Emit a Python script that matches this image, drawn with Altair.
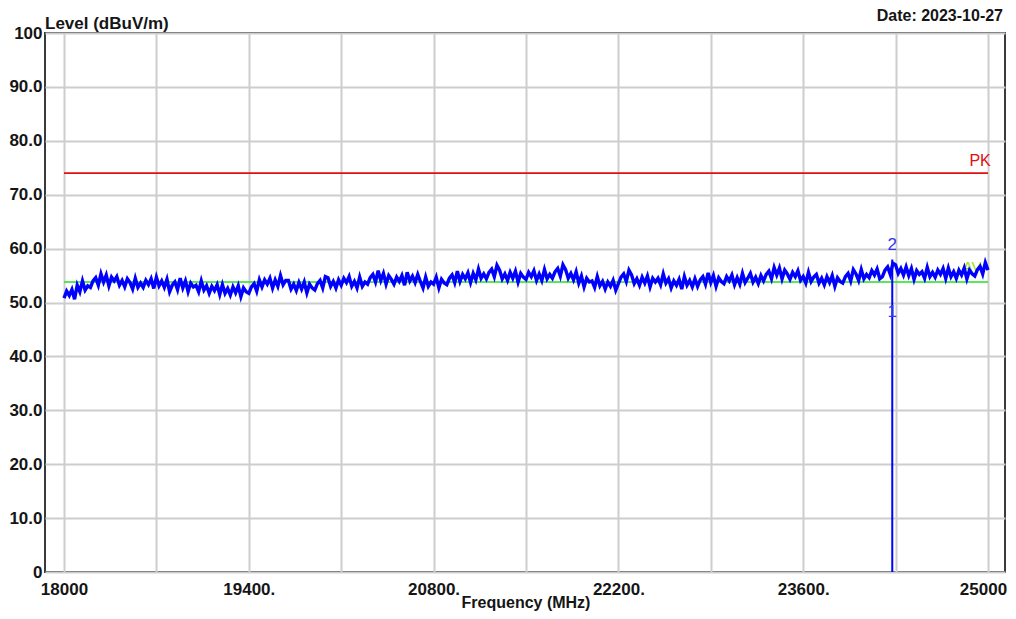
import altair as alt
import pandas as pd

F_START, F_STEP = 18000, 20
seg_18000 = [50.8, 52.1, 51.3, 52.4, 50.6, 53.2, 52.0, 54.0, 52.3, 53.1, 52.8, 54.0, 54.6, 53.2, 55.3, 53.8, 55.1, 53.1, 54.7, 54.0,
             54.8, 53.2, 54.1, 52.9, 54.4, 53.7, 52.5, 54.5, 52.8, 53.6, 52.8, 54.1, 53.3, 54.4, 52.6, 54.7, 53.1, 54.0, 52.8, 54.3,
             52.0, 53.2, 53.8, 52.4, 54.5, 52.7, 54.0, 52.0, 53.6, 52.9]
seg_19000 = [53.2, 52.0, 54.0, 52.3, 53.1, 51.7, 53.0, 52.2, 53.3, 51.5, 53.3, 51.7, 52.6, 51.4, 52.9, 51.8, 53.1, 51.1, 52.7, 52.0,
             51.7, 52.9, 53.5, 52.1, 54.2, 52.9, 54.2, 53.4, 54.5, 52.7, 54.2, 53.0, 55.0, 53.3, 54.1, 54.1, 52.5, 53.4, 52.2, 53.7,
             52.5, 53.8, 51.8, 53.4, 52.7, 52.3, 53.5, 54.1, 52.7, 54.8]
seg_20000 = [54.6, 53.0, 53.9, 52.7, 54.2, 53.2, 54.5, 53.7, 54.8, 53.0, 53.9, 52.7, 54.7, 53.0, 53.8, 53.4, 54.6, 55.2, 53.8, 55.9,
             54.1, 55.4, 53.4, 55.0, 54.3, 53.4, 54.7, 53.9, 55.0, 53.2, 55.6, 54.0, 54.9, 53.7, 55.2, 53.9, 52.7, 54.7, 53.0, 53.8,
             53.4, 54.7, 52.7, 54.3, 53.6, 53.3, 54.5, 55.1, 53.7, 55.8]
seg_21000 = [53.9, 55.2, 54.4, 55.5, 53.7, 55.4, 54.2, 56.2, 54.5, 55.3, 54.4, 55.6, 56.2, 54.8, 56.9, 56.0, 54.4, 55.3, 54.1, 55.6,
             54.5, 55.8, 53.8, 55.4, 54.7, 54.3, 55.6, 54.8, 55.9, 54.1, 55.3, 54.1, 56.1, 54.4, 55.2, 54.5, 55.7, 56.3, 54.9, 57.0,
             56.1, 54.5, 55.4, 54.2, 55.7, 53.6, 54.9, 52.9, 54.5, 53.8]
seg_22000 = [54.0, 52.8, 54.8, 53.1, 53.9, 52.5, 53.8, 53.0, 54.1, 52.3, 53.5, 54.7, 55.3, 53.9, 56.0, 55.1, 53.5, 54.4, 53.2, 54.7,
             53.6, 54.9, 52.9, 54.5, 53.8, 54.5, 53.3, 55.3, 53.6, 54.4, 52.7, 54.0, 53.2, 54.3, 52.5, 54.8, 53.2, 54.1, 52.9, 54.4,
             53.0, 54.2, 54.8, 53.4, 55.5, 53.7, 55.0, 53.0, 54.6, 53.9]
seg_23000 = [53.5, 54.8, 54.0, 55.1, 53.3, 54.6, 53.4, 55.4, 53.7, 54.5, 55.4, 53.8, 54.7, 53.5, 55.0, 54.0, 55.2, 55.8, 54.4, 56.5,
             55.1, 56.4, 54.4, 56.0, 55.3, 54.3, 55.6, 54.8, 55.9, 54.1, 54.8, 53.6, 55.6, 53.9, 54.7, 55.2, 53.6, 54.5, 53.3, 54.8,
             53.7, 55.0, 53.0, 54.6, 53.9, 53.6, 54.8, 55.4, 54.0, 56.1]
seg_24000 = [55.3, 54.1, 56.1, 54.4, 55.2, 54.6, 55.9, 55.1, 56.2, 54.4, 54.8, 56.0, 56.6, 55.2, 57.3, 57.0, 55.4, 56.3, 55.1, 56.6,
             55.0, 56.3, 54.3, 55.9, 55.2, 55.7, 54.5, 56.5, 54.8, 55.6, 54.7, 56.0, 55.2, 56.3, 54.5, 56.4, 54.8, 55.7, 54.5, 56.0,
             55.1, 56.4, 54.4, 56.0, 55.3, 54.9, 56.1, 56.7, 55.3, 57.4]
seg_25000 = [56.0]

limit_pk = 74.0
limit_av = 53.8
marker_freq = 24275
marker_top = 58.0
marker2_level = 60.6
marker1_level = 48.3

x_grid = list(range(18000, 25001, 700))
y_grid = list(range(0, 101, 10))

levels = seg_18000 + seg_19000 + seg_20000 + seg_21000 + seg_22000 + seg_23000 + seg_24000 + seg_25000
freqs = [F_START + i * F_STEP for i in range(len(levels))]
trace = pd.DataFrame({"f": freqs, "level": levels})

limits = pd.DataFrame({"f": [18000, 18000], "f2": [25000, 25000],
                       "level": [limit_pk, limit_av], "name": ["PK", "AV"]})
marker_line = pd.DataFrame({"f": [marker_freq], "y0": [0], "y1": [marker_top]})
marker_txt = pd.DataFrame({"f": [marker_freq, marker_freq], "level": [marker2_level, marker1_level], "t": ["2", "1"]})
lim_txt = pd.DataFrame({"f": [24940], "level": [76.2], "t": ["PK"]})
av_txt = pd.DataFrame({"f": [24880], "level": [56.6], "t": ["AV"]})

W, H = 960, 539
FONT = "Liberation Sans"

xs = alt.Scale(domain=[17856, 25129], nice=False, zero=False)
ys = alt.Scale(domain=[0, 100], nice=False)

x_axis = alt.Axis(values=x_grid, title=None, grid=True, domain=False, ticks=False, tickSize=0,
                  labelPadding=9, labelFont=FONT, labelFontSize=17, labelFontWeight="bold", labelColor="#151515",
                  labelExpr="(datum.value - 18000) % 1400 == 0 ? (datum.value == 18000 || datum.value == 25000 ? format(datum.value, 'd') : format(datum.value, 'd') + '.') : ''",
                  labelOffset=alt.ExprRef(expr="datum.value == 25000 ? -5 : 0"),
                  gridColor="#cdcdcd", gridWidth=2, labelOverlap=False)
y_axis = alt.Axis(values=y_grid, title=None, grid=True, domain=False, ticks=False, tickSize=0,
                  labelPadding=3, labelFont=FONT, labelFontSize=17, labelFontWeight="bold", labelColor="#151515",
                  labelExpr="datum.value == 0 ? '0' : datum.value == 100 ? '100' : format(datum.value, '.1f')",
                  gridColor="#cdcdcd", gridWidth=2, labelOverlap=False)

base_grid = alt.Chart(trace).mark_point(opacity=0).encode(
    x=alt.X("f:Q", scale=xs, axis=x_axis),
    y=alt.Y("level:Q", scale=ys, axis=y_axis),
)

lim_rules = alt.Chart(limits).mark_rule(strokeWidth=1.6).encode(
    x=alt.X("f:Q", scale=xs), x2="f2:Q",
    y=alt.Y("level:Q", scale=ys),
    color=alt.Color("name:N", scale=alt.Scale(domain=["PK", "AV"], range=["#e01010", "#22e022"]), legend=None),
)

av_label = alt.Chart(av_txt).mark_text(font=FONT, fontSize=15, color="#99dd00", align="center", baseline="middle").encode(
    x=alt.X("f:Q", scale=xs), y=alt.Y("level:Q", scale=ys), text="t:N")

trace_line = alt.Chart(trace).mark_line(color="#0000ff", strokeWidth=3.4, interpolate="linear").encode(
    x=alt.X("f:Q", scale=xs), y=alt.Y("level:Q", scale=ys))

mk_line = alt.Chart(marker_line).mark_rule(color="#0000ff", strokeWidth=2).encode(
    x=alt.X("f:Q", scale=xs), y=alt.Y("y0:Q", scale=ys), y2="y1:Q")

mk_text = alt.Chart(marker_txt).mark_text(font=FONT, fontSize=17, color="#3535ee", align="center", baseline="middle").encode(
    x=alt.X("f:Q", scale=xs), y=alt.Y("level:Q", scale=ys), text="t:N")

pk_text = alt.Chart(lim_txt).mark_text(font=FONT, fontSize=16, color="#e01010", align="center", baseline="middle").encode(
    x=alt.X("f:Q", scale=xs), y=alt.Y("level:Q", scale=ys), text="t:N")

titles = pd.DataFrame({"t": ["Level (dBuV/m)"]})
t_level = alt.Chart(titles).mark_text(font=FONT, fontSize=17, fontWeight="bold", color="#151515",
                                       align="left", baseline="alphabetic").encode(
    x=alt.value(0), y=alt.value(-4), text="t:N")
t_date = alt.Chart(pd.DataFrame({"t": ["Date: 2023-10-27"]})).mark_text(
    font=FONT, fontSize=16, fontWeight="bold", color="#151515", align="right", baseline="alphabetic").encode(
    x=alt.value(958), y=alt.value(-12), text="t:N")
t_freq = alt.Chart(pd.DataFrame({"t": ["Frequency (MHz)"]})).mark_text(
    font=FONT, fontSize=16, fontWeight="bold", color="#151515", align="center", baseline="alphabetic").encode(
    x=alt.value(481), y=alt.value(575), text="t:N")

chart = alt.layer(base_grid, lim_rules, av_label, trace_line, mk_line, mk_text, pk_text, t_level, t_date, t_freq).properties(
    width=W, height=H,
    autosize=alt.AutoSizeParams(type="none"),
    padding={"left": 37, "top": 25, "right": 3, "bottom": 39},
    background="white",
).configure_view(stroke="#3a3a3a", strokeWidth=2)

chart.save("out.html", embed_options={"renderer": "svg", "actions": False})
